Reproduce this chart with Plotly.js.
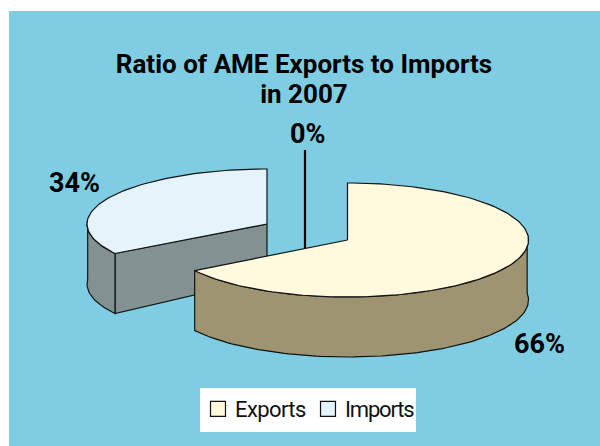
<!DOCTYPE html>
<html>
<head>
<meta charset="utf-8">
<script src="https://cdn.plot.ly/plotly-3.0.1.min.js"></script>
<style>
  html, body { margin: 0; padding: 0; background: #fff; }
  #chart { width: 600px; height: 446px; }
  .legendtext { letter-spacing: -0.6px; }
  .legend .groups:nth-child(2) .legendtext,
  .legend .traces:nth-child(2) .legendtext { letter-spacing: -1.2px; }
  .legend .scrollbox { clip-path: none !important; }
</style>
</head>
<body>
<div id="chart"></div>
<script>
// Share of 2007 AME trade
const categories = ['Exports', 'Imports', ''];
const shares = [66, 34, 0];
const titleLines = ['Ratio of AME Exports to Imports', 'in 2007'];

// Drawing geometry of the tilted, exploded pie (axis units are pixels)
const VIEW = { left: 9, top: 11, width: 600, height: 446 };
const SLICE_GEOM = [
  { cx: 347.5, cy: 240, rx: 181, ry: 57, depth: 60, apexDepth: 60, sideFrom: 83, sideTo: null },
  { cx: 267, cy: 224, rx: 180, ry: 55, depth: 60, apexDepth: 54, sideFrom: null, sideTo: 275 }
];
const TOP_COLORS = ['#FFF9DE', '#E4F4FA'];
const SIDE_COLORS = ['#9E9472', '#829292'];
const BG = '#7FCDE3';
const FONT = 'Roboto, "Liberation Sans", Arial, sans-serif';
const LABEL_POS = [[539, 344], [74, 183], [307, 134]];
const LEADER = { x: 305, from: 150, to: 248 };

const toRad = d => d * Math.PI / 180;
const px = (g, a) => g.cx + g.rx * Math.sin(toRad(a));
const py = (g, a, drop) => g.cy - g.ry * Math.cos(toRad(a)) + (drop || 0);

function arc(g, a0, a1, drop) {
  const n = Math.max(2, Math.ceil(Math.abs(a1 - a0) / 1.5));
  const xs = [], ys = [];
  for (let i = 0; i <= n; i++) {
    const a = a0 + (a1 - a0) * i / n;
    xs.push(px(g, a)); ys.push(py(g, a, drop));
  }
  return { xs, ys };
}

function poly(xs, ys, fill) {
  return {
    type: 'scatter', mode: 'lines', x: xs, y: ys, fill: 'toself', fillcolor: fill,
    line: { color: '#111', width: 1.2, shape: 'linear' },
    hoverinfo: 'skip', showlegend: false
  };
}

// Angles of each slice, clockwise from twelve o'clock
const total = shares.reduce((a, b) => a + b, 0);
const spans = [];
let running = 0;
shares.forEach(v => { spans.push([running, running + v / total * 360]); running += v / total * 360; });

function topFace(i) {
  const g = SLICE_GEOM[i], [a0, a1] = spans[i];
  const e = arc(g, a0, a1, 0);
  return poly([g.cx, ...e.xs, g.cx], [g.cy, ...e.ys, g.cy], TOP_COLORS[i]);
}
function rimFace(i, from, to) {
  const g = SLICE_GEOM[i];
  const t = arc(g, from, to, 0), b = arc(g, to, from, g.depth);
  return poly([...t.xs, ...b.xs, t.xs[0]], [...t.ys, ...b.ys, t.ys[0]], SIDE_COLORS[i]);
}
function cutFace(i, angle) {
  const g = SLICE_GEOM[i];
  return poly(
    [g.cx, px(g, angle), px(g, angle), g.cx, g.cx],
    [g.cy, py(g, angle), py(g, angle, g.depth), g.cy + g.apexDepth, g.cy],
    SIDE_COLORS[i]
  );
}

const traces = [
  cutFace(1, spans[1][0]),
  rimFace(1, spans[1][0], SLICE_GEOM[1].sideTo),
  topFace(1),
  {
    type: 'scatter', mode: 'lines', x: [LEADER.x, LEADER.x], y: [LEADER.from, LEADER.to],
    line: { color: '#000', width: 2.2 }, hoverinfo: 'skip', showlegend: false
  },
  rimFace(0, SLICE_GEOM[0].sideFrom, spans[0][1]),
  topFace(0)
];

// Legend entries with square keys
categories.forEach((name, i) => {
  if (!name) return;
  traces.push({
    type: 'scatter', mode: 'markers', x: [null], y: [null], name,
    marker: { symbol: 'square', size: 15, color: TOP_COLORS[i], line: { color: '#111', width: 1.2 } }
  });
});

const annotations = shares.map((v, i) => ({
  x: LABEL_POS[i][0], y: LABEL_POS[i][1], xref: 'x', yref: 'y',
  text: v + '%', showarrow: false, xanchor: 'center', yanchor: 'middle',
  font: { family: FONT, size: 27, color: '#000', weight: 700 }
}));

const layout = {
  width: VIEW.width, height: VIEW.height,
  margin: { l: VIEW.left, t: VIEW.top, r: 0, b: 0, pad: 0 },
  paper_bgcolor: '#fff', plot_bgcolor: BG,
  showlegend: true,
  title: {
    text: titleLines.join('<br>'), x: 304 / 600, xref: 'container', xanchor: 'center',
    y: 1 - 73 / 446, yref: 'container', yanchor: 'top',
    font: { family: FONT, size: 26, color: '#000', weight: 700 }
  },
  xaxis: { range: [VIEW.left, VIEW.width], visible: false, fixedrange: true },
  yaxis: { range: [VIEW.height, VIEW.top], visible: false, fixedrange: true },
  shapes: [{
    type: 'rect', xref: 'x', yref: 'y', x0: 200, x1: 416, y0: 388, y1: 432,
    fillcolor: '#fff', line: { width: 0 }, layer: 'below'
  }],
  legend: {
    orientation: 'h', x: (198 - VIEW.left) / 591, y: (446 - 388) / 435, xanchor: 'left', yanchor: 'top',
    bgcolor: 'rgba(0,0,0,0)', borderwidth: 0,
    font: { family: FONT, size: 22, color: '#111' },
    entrywidth: 65, entrywidthmode: 'pixels', itemsizing: 'trace', traceorder: 'normal'
  },
  annotations
};

Plotly.newPlot('chart', traces, layout, { staticPlot: true, displayModeBar: false }).then(() => {
  // Tighten the gap between the two title lines
  const lines = document.querySelectorAll('.gtitle .line');
  if (lines.length > 1) lines[1].setAttribute('dy', '30');
  // Bring the legend labels closer to their keys
  document.querySelectorAll('.legend .legendtext').forEach(t => {
    t.setAttribute('x', parseFloat(t.getAttribute('x')) - 3);
  });
});
</script>
</body>
</html>
